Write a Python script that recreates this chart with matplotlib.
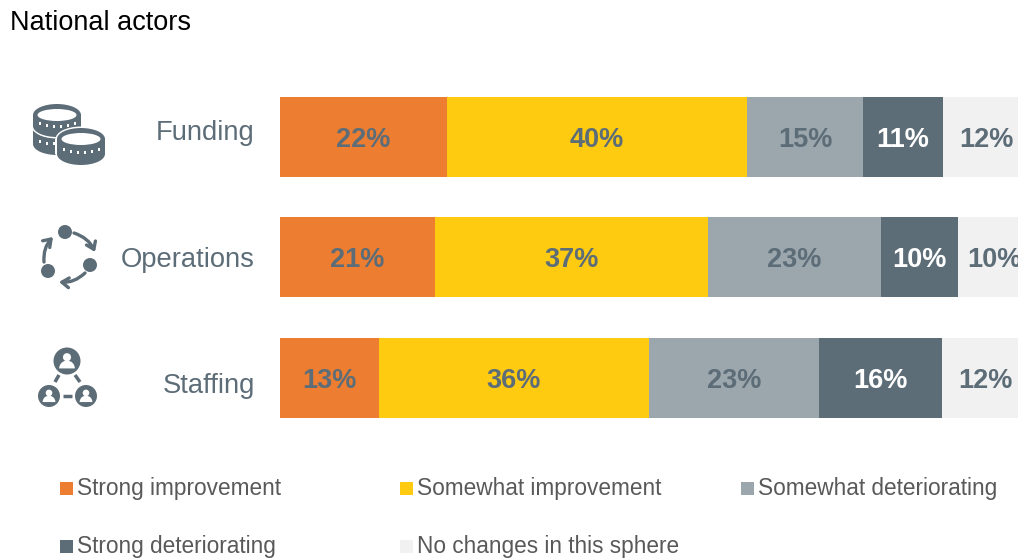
import matplotlib
matplotlib.use('Agg')
import matplotlib.pyplot as plt
from matplotlib.patches import Rectangle, Ellipse, Circle, FancyArrowPatch, Wedge

plt.rcParams['font.family'] = ['Liberation Sans', 'DejaVu Sans']

# data
categories = ['Funding', 'Operations', 'Staffing']
series_names = ['Strong improvement', 'Somewhat improvement', 'Somewhat deteriorating',
                'Strong deteriorating', 'No changes in this sphere']
strong_imp = [22.3, 20.6, 13.2]
somewhat_imp = [40.0, 36.5, 36.0]
somewhat_det = [15.4, 23.0, 22.7]
strong_det = [10.7, 10.3, 16.3]
no_change = [11.6, 9.6, 11.8]
labels_strong_imp = ['22%', '21%', '13%']
labels_somewhat_imp = ['40%', '37%', '36%']
labels_somewhat_det = ['15%', '23%', '23%']
labels_strong_det = ['11%', '10%', '16%']
labels_no_change = ['12%', '10%', '12%']

colors = ['#ED7D31', '#FFCB11', '#9BA6AD', '#5D6D78', '#F1F1F1']
label_colors = ['#5D6D78', '#5D6D78', '#5D6D78', '#FFFFFF', '#5D6D78']
GREY = '#5D6D78'

W, H = 1018, 560
fig = plt.figure(figsize=(W / 100, H / 100), dpi=100)

# overlay in pixel coordinates for icons, captions and the legend
pix = fig.add_axes([0, 0, 1, 1])
pix.set_xlim(0, W)
pix.set_ylim(H, 0)
pix.axis('off')

# bars
ax = fig.add_axes([280 / W, 1 - 438 / H, 738 / W, 361.5 / H])
ax.patch.set_alpha(0)
all_values = [strong_imp, somewhat_imp, somewhat_det, strong_det, no_change]
all_labels = [labels_strong_imp, labels_somewhat_imp, labels_somewhat_det,
              labels_strong_det, labels_no_change]
left = [0, 0, 0]
for vals, labs, col, lcol in zip(all_values, all_labels, colors, label_colors):
    ax.barh(range(3), vals, left=left, height=0.668, color=col)
    for i, (v, l) in enumerate(zip(vals, labs)):
        ax.text(left[i] + v / 2, i + 0.025, l, ha='center', va='center',
                fontsize=19.5, fontweight='bold', color=lcol)
    left = [a + b for a, b in zip(left, vals)]
ax.set_xlim(0, 738 / 7.5)
ax.set_ylim(2.5, -0.5)
ax.axis('off')

# captions
pix.text(10, 23.5, 'National actors', fontsize=19.5, color='black', va='center')
for name, y in zip(categories, [133, 260, 386]):
    pix.text(255, y, name, fontsize=19.7, color=GREY, ha='right', va='center')


def coin(cx, cy, w=48, h=22, thick=16):
    pix.add_patch(Ellipse((cx, cy + thick), w + 3, h + 3, color='white', lw=0, zorder=3))
    pix.add_patch(Rectangle((cx - w / 2 - 1.5, cy), w + 3, thick, color='white', lw=0, zorder=3))
    pix.add_patch(Ellipse((cx, cy), w + 3, h + 3, color='white', lw=0, zorder=3))
    pix.add_patch(Ellipse((cx, cy + thick), w, h, color=GREY, lw=0, zorder=3))
    pix.add_patch(Rectangle((cx - w / 2, cy), w, thick, color=GREY, lw=0, zorder=3))
    pix.add_patch(Ellipse((cx, cy), w, h, color=GREY, lw=0, zorder=3))
    pix.add_patch(Ellipse((cx, cy), w - 9, h - 10, color='white', lw=0, zorder=3))
    for dx in [-17, -10, -3, 4, 11, 18]:
        dy = 1 - (dx / 24) ** 2
        pix.add_patch(Rectangle((cx + dx - 1.2, cy + thick * 0.45 + 5 * dy), 2.6, 3,
                                color='white', lw=0, zorder=3))


# coins icon
coin(57, 132, thick=12)
coin(57, 115, thick=11)
coin(81, 139, thick=15)

# cycle icon
for c in [(65, 232), (90, 265), (48, 271)]:
    pix.add_patch(Circle(c, 7, color=GREY, lw=0))
for a, b in [((74, 233), (95, 252)), ((85, 273), (59, 282)), ((44, 262), (53, 237))]:
    pix.add_patch(FancyArrowPatch(a, b, connectionstyle='arc3,rad=-0.22', arrowstyle='->,head_length=5,head_width=3.5',
                                  color=GREY, lw=2.4, shrinkA=0, shrinkB=0))

# people icon
for (cx, cy), r in [((67, 361), 13.5), ((49, 396), 11), ((86, 396), 11)]:
    pix.add_patch(Circle((cx, cy), r, color=GREY, lw=0))
    pix.add_patch(Circle((cx, cy - r * 0.28), r * 0.3, color='white', lw=0))
    pix.add_patch(Wedge((cx, cy + r * 0.55), r * 0.58, 180, 360, color='white', lw=0))
for a, b in [((59, 375), (55, 382)), ((75, 375), (80, 382)), ((63, 396), (72, 396))]:
    pix.plot([a[0], b[0]], [a[1], b[1]], color=GREY, lw=2.5, solid_capstyle='butt')

# legend
legend_x = [60, 400, 741, 60, 400]
legend_y = [488, 488, 488, 546, 546]
for name, col, x, y in zip(series_names, colors, legend_x, legend_y):
    pix.add_patch(Rectangle((x, y - 6), 13, 13, color=col, lw=0))
    pix.text(x + 17, y + 1, name, fontsize=16.3, color='#595959', va='center')

fig.savefig('out.png', dpi=100)
